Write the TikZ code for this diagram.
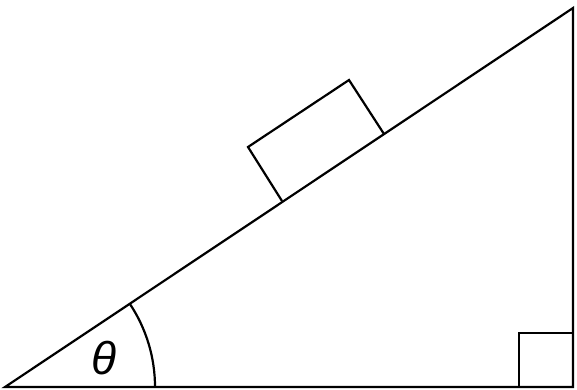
\documentclass[tikz,border=0pt]{standalone}
\usepackage{fontspec}
\setmainfont{Liberation Sans}
\begin{document}
\begin{tikzpicture}[x=1pt,y=-1pt,line width=2.2pt,line join=miter,
  edge/.style={draw=black}]
\useasboundingbox (0,0) rectangle (577,390);
\coordinate (A) at (5,387);
\coordinate (B) at (573,387);
\coordinate (C) at (573,8);
\draw[edge] (A) -- (B) -- (C) -- cycle;
% right angle square
\coordinate (S1) at (519,387);
\coordinate (S2) at (519,333);
\coordinate (S3) at (573,333);
\draw[edge] (S1) -- (S2) -- (S3);
% block
\coordinate (P1) at (282,201);
\coordinate (P2) at (248,147);
\coordinate (P3) at (349,80);
\coordinate (P4) at (384,134);
\draw[edge] (P1) -- (P2) -- (P3) -- (P4);
% angle arc
\draw[edge] (155,387) arc[start angle=0,end angle=-33.7,radius=150];
\node (theta) at (104,358) {\fontsize{46}{46}\selectfont\itshape θ};
\end{tikzpicture}
\end{document}
